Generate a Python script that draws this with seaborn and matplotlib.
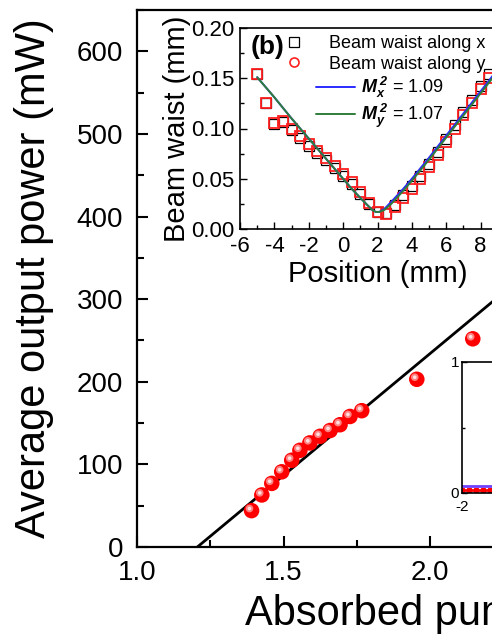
import numpy as np
import pandas as pd
import matplotlib
matplotlib.use('Agg')
import matplotlib.pyplot as plt
import matplotlib.transforms as mtransforms
from matplotlib.lines import Line2D
from matplotlib.ticker import MultipleLocator
import seaborn as sns

# Main plot: output power vs absorbed pump power
pump_power = [1.391, 1.426, 1.460, 1.494, 1.528, 1.556, 1.590, 1.625, 1.659, 1.693, 1.727, 1.767, 1.955, 2.146]
output_power = [44, 63, 77, 91, 105, 117, 126, 134, 141, 148, 158, 165, 203, 252]
fit_pump = [1.206, 2.40]
fit_output = [0, 352]

# Inset (b): beam waist vs position
position = [-5, -4.5, -4, -3.5, -3, -2.5, -2, -1.5, -1, -0.5, 0, 0.5, 1, 1.5,
            2, 2.5, 3, 3.5, 4, 4.5, 5, 5.5, 6, 6.5, 7, 7.5, 8, 8.5]
waist_x = [0.154, 0.125, 0.104, 0.106, 0.099, 0.091, 0.083, 0.076, 0.069, 0.061, 0.053, 0.045, 0.035, 0.025,
           0.017, 0.016, 0.024, 0.034, 0.043, 0.053, 0.065, 0.077, 0.090, 0.103, 0.116, 0.128, 0.142, 0.154]
waist_y = [0.154, 0.125, 0.105, 0.107, 0.100, 0.093, 0.085, 0.078, 0.071, 0.063, 0.055, 0.047, 0.037, 0.026,
           0.017, 0.015, 0.022, 0.031, 0.040, 0.050, 0.062, 0.074, 0.087, 0.100, 0.113, 0.125, 0.139, 0.150]
fit_pos = [-5, -4, -3, -2, -1, 0, 0.5, 1.0, 1.4, 1.7, 1.9, 2.1, 2.4, 2.8, 3.5, 4, 5, 6, 7, 8, 9, 10]
fit_mx = [0.151, 0.131, 0.110, 0.090, 0.070, 0.050, 0.040, 0.031, 0.024, 0.019, 0.017, 0.017, 0.020, 0.027,
          0.040, 0.050, 0.071, 0.093, 0.115, 0.137, 0.159, 0.181]
fit_my = [0.151, 0.131, 0.110, 0.090, 0.070, 0.050, 0.040, 0.031, 0.024, 0.019, 0.017, 0.017, 0.019, 0.025,
          0.038, 0.048, 0.069, 0.091, 0.113, 0.135, 0.157, 0.179]

# Inset at lower right (mostly cut off)
c_x = [-2, -1.8, -1.6, -1.4, -1.2, -1.0]
c_red = [0.02, 0.02, 0.02, 0.02, 0.02, 0.02]
c_blue = [0.05, 0.05, 0.05, 0.05, 0.05, 0.05]

sns.set_style('ticks')
plt.rcParams['font.family'] = ['Liberation Sans', 'DejaVu Sans']
plt.rcParams['axes.unicode_minus'] = False
plt.rcParams['mathtext.fontset'] = 'custom'
plt.rcParams['mathtext.rm'] = 'Liberation Sans'
plt.rcParams['mathtext.it'] = 'Liberation Sans:italic'
plt.rcParams['mathtext.bf'] = 'Liberation Sans:bold:italic'
for key in ['text.color', 'axes.labelcolor', 'xtick.color', 'ytick.color', 'axes.edgecolor']:
    plt.rcParams[key] = 'black'

W, H = 492, 637
fig = plt.figure(figsize=(W / 100, H / 100), dpi=100)

def px_axes(left, top, right, bottom):
    return fig.add_axes([left / W, 1 - bottom / H, (right - left) / W, (bottom - top) / H])

# ---- main axes ----
ax = px_axes(137, 10, 723, 547)
sns.lineplot(x=fit_pump, y=fit_output, ax=ax, color='black', lw=2, zorder=2)
sns.scatterplot(x=pump_power, y=output_power, ax=ax, color='#ff0000', s=125, edgecolor='none', zorder=3)
# sphere highlights
hl = mtransforms.offset_copy(ax.transData, fig=fig, x=-1.5, y=1.5, units='points')
ax.scatter(pump_power, output_power, s=30, color='#ff8080', edgecolor='none', transform=hl, zorder=4)
ax.scatter(pump_power, output_power, s=7, color='#ffe0e0', edgecolor='none', transform=hl, zorder=5)

ax.set_xlim(1.0, 3.0)
ax.set_ylim(0, 650)
ax.xaxis.set_minor_locator(MultipleLocator(0.25))
ax.yaxis.set_major_locator(MultipleLocator(100))
ax.yaxis.set_minor_locator(MultipleLocator(50))
ax.set_xticks([1.0, 1.5, 2.0, 2.5, 3.0])
ax.set_xticklabels(['1.0', '1.5', '2.0', '2.5', '3.0'])
ax.tick_params(which='both', direction='in', width=1.5, top=False, right=False)
ax.tick_params(which='major', length=8)
ax.tick_params(which='minor', length=5)
ax.tick_params(axis='x', labelsize=20, pad=9)
ax.tick_params(axis='y', labelsize=20, pad=10)
for sp in ax.spines.values():
    sp.set_linewidth(1.6)
ax.set_ylabel('Average output power (mW)', fontsize=30)
ax.yaxis.set_label_coords(-0.142, 0.5)
ax.set_xlabel('Absorbed pump power (W)', fontsize=30, ha='left')
ax.xaxis.set_label_coords(0.184, -0.088)

# ---- lower-right inset (cut off) ----
axc = px_axes(462, 362, 600, 493)
axc.set_facecolor('white')
sns.lineplot(x=c_x, y=c_blue, ax=axc, color='#7040ff', lw=2)
sns.lineplot(x=c_x, y=c_red, ax=axc, color='#ff0000', lw=2, marker='s', markersize=3, markeredgecolor='#ff0000')
axc.set_xlim(-2, 2)
axc.set_ylim(0, 1)
axc.set_xticks([-2])
axc.set_yticks([0, 1])
axc.yaxis.set_minor_locator(MultipleLocator(0.5))
axc.tick_params(which='both', direction='in', labelsize=11, pad=2, width=1)
axc.tick_params(axis='x', pad=5)
axc.tick_params(which='minor', length=2)
for sp in axc.spines.values():
    sp.set_linewidth(1.2)

# ---- inset (b) ----
axb = px_axes(240, 28, 515, 229)
axb.set_facecolor('white')
sns.lineplot(x=position, y=waist_x, ax=axb, color='black', marker='s', markersize=7,
             markerfacecolor='none', markeredgecolor='black', markeredgewidth=0.9, linestyle='none', zorder=3)
sns.lineplot(x=position, y=waist_y, ax=axb, color='red', marker='s', markersize=7,
             markerfacecolor='none', markeredgecolor='#ff2020', markeredgewidth=1.3, linestyle='none', zorder=4)
sns.lineplot(x=fit_pos, y=fit_mx, ax=axb, color='#2a2aff', lw=1.4, zorder=5)
sns.lineplot(x=fit_pos, y=fit_my, ax=axb, color='#2e7d3a', lw=1.4, zorder=6)
axb.set_xlim(-6, 10)
axb.set_ylim(0, 0.20)
axb.xaxis.set_major_locator(MultipleLocator(2))
axb.xaxis.set_minor_locator(MultipleLocator(1))
axb.yaxis.set_major_locator(MultipleLocator(0.05))
axb.yaxis.set_minor_locator(MultipleLocator(0.025))
axb.yaxis.set_major_formatter(matplotlib.ticker.FormatStrFormatter('%.2f'))
axb.tick_params(which='both', direction='in', width=1, top=False, right=False, labelsize=16)
axb.tick_params(which='major', length=5)
axb.tick_params(which='minor', length=3)
axb.tick_params(axis='x', pad=5)
axb.tick_params(axis='y', pad=4)
for sp in axb.spines.values():
    sp.set_linewidth(1.2)
axb.set_xlabel('Position (mm)', fontsize=21, labelpad=2)
axb.set_ylabel('Beam waist (mm)', fontsize=21, labelpad=0)

axb.text(0.10, 0.905, '(b)', transform=axb.transAxes, fontsize=19, fontweight='bold',
         ha='center', va='center')
h1 = [Line2D([], [], marker='s', color='black', mfc='none', ls='none', ms=6.5, mew=0.9),
      Line2D([], [], marker='o', color='#ff2020', mfc='none', ls='none', ms=6.5, mew=1.2)]
leg1 = axb.legend(h1, ['Beam waist along x', 'Beam waist along y'], loc='upper left',
                  bbox_to_anchor=(0.165, 0.965), frameon=False, fontsize=13, handlelength=1.0,
                  handletextpad=1.4, labelspacing=0.2, borderpad=0, borderaxespad=0)
axb.add_artist(leg1)
h2 = [Line2D([], [], color='#2a2aff', lw=1.4), Line2D([], [], color='#2e7d3a', lw=1.4)]
axb.legend(h2, [r'$\mathbf{M_{x}^{\ 2}}$ = 1.09', r'$\mathbf{M_{y}^{\ 2}}$ = 1.07'], loc='upper left',
           bbox_to_anchor=(0.275, 0.765), frameon=False, fontsize=13, handlelength=2.2,
           handletextpad=0.3, labelspacing=0.1, borderpad=0, borderaxespad=0)

fig.savefig('out.png', dpi=100)
